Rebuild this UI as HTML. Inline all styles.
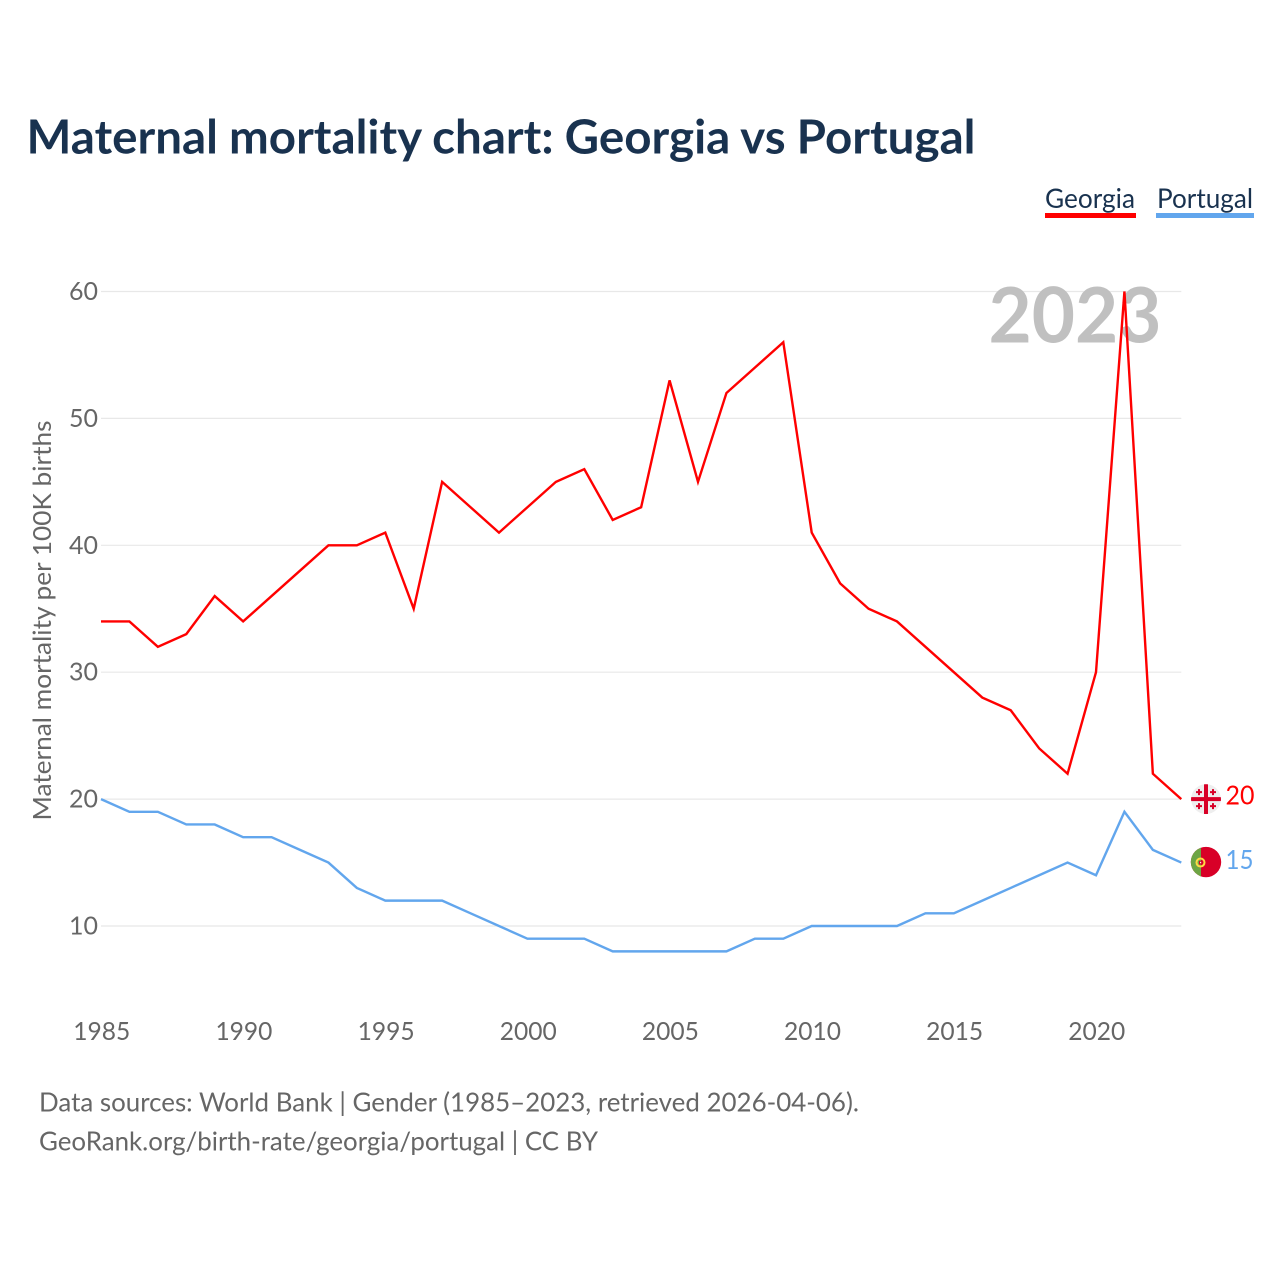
<!DOCTYPE html>
<html lang="en">
<head>
<meta charset="utf-8">
<title>Maternal mortality chart: Georgia vs Portugal</title>
<style>
html,body{margin:0;padding:0;background:#fff;width:1280px;height:1280px;overflow:hidden}
svg{display:block}
text{font-family:"Lato","Carlito","Liberation Sans",sans-serif}
</style>
</head>
<body>
<svg id="chart" xmlns="http://www.w3.org/2000/svg" width="1280" height="1280" viewBox="0 0 1280 1280">
  <text x="26.5" y="153.5" font-size="46.5" font-weight="700" fill="#19324f" word-spacing="-0.5" textLength="949" lengthAdjust="spacingAndGlyphs">Maternal mortality chart: Georgia vs Portugal</text>

  <text x="1045" y="208" font-size="27" fill="#19324f" textLength="90" lengthAdjust="spacingAndGlyphs">Georgia</text>
  <rect x="1045" y="213" width="91" height="5" fill="#ff0000"/>
  <text x="1157" y="208" font-size="27" fill="#19324f" textLength="96" lengthAdjust="spacingAndGlyphs">Portugal</text>
  <rect x="1156" y="213" width="98" height="5" fill="#62a6ed"/>

  <g id="grid"></g>
  <text x="988.5" y="342.5" font-size="77" font-weight="700" fill="#c0c0c0" textLength="173" lengthAdjust="spacingAndGlyphs">2023</text>
  <g id="yticks"></g>
  <g id="xticks"></g>
  <text transform="translate(51,820.5) rotate(-90)" x="0" y="0" font-size="25" fill="#666666" textLength="400" lengthAdjust="spacingAndGlyphs">Maternal mortality per 100K births</text>

  <polyline id="line-portugal" fill="none" stroke="#62a6ed" stroke-width="2.4" stroke-linejoin="miter"/>
  <polyline id="line-georgia" fill="none" stroke="#ff0000" stroke-width="2.4" stroke-linejoin="miter"/>

  <defs>
    <clipPath id="clip-ge"><circle cx="0" cy="0" r="15"/></clipPath>
    <clipPath id="clip-pt"><circle cx="0" cy="0" r="15.2"/></clipPath>
  </defs>
  <g id="flag-georgia">
    <g clip-path="url(#clip-ge)">
      <circle r="15" fill="#eeeeee"/>
      <rect x="-2" y="-15" width="4" height="30" fill="#d80027"/>
      <rect x="-15" y="-2" width="30" height="4" fill="#d80027"/>
      <path d="M-8 -10h2v2h2v2h-2v2h-2v-2h-2v-2h2z M6 -10h2v2h2v2h-2v2h-2v-2h-2v-2h2z M-8 4h2v2h2v2h-2v2h-2v-2h-2v-2h2z M6 4h2v2h2v2h-2v2h-2v-2h-2v-2h2z" fill="#d80027"/>
    </g>
  </g>
  <g id="flag-portugal">
    <g clip-path="url(#clip-pt)">
      <rect x="-16" y="-16" width="32" height="32" fill="#d80027"/>
      <rect x="-16" y="-16" width="11" height="32" fill="#6da544"/>
      <circle cx="-5.5" cy="0.5" r="4" fill="none" stroke="#ffda44" stroke-width="2"/>
      <rect x="-7" y="-1" width="3" height="3.4" fill="#d80027"/>
      <rect x="-6" y="-0.2" width="1.2" height="1.4" fill="#eeeeee"/>
    </g>
  </g>
  <text id="value-georgia" x="1225.5" font-size="26" fill="#ff0000" textLength="29" lengthAdjust="spacingAndGlyphs"></text>
  <text id="value-portugal" x="1225.5" font-size="26" fill="#62a6ed" textLength="28" lengthAdjust="spacingAndGlyphs"></text>

  <text x="39" y="1111.5" font-size="26.3" fill="#666666" textLength="820" lengthAdjust="spacingAndGlyphs">Data sources: World Bank | Gender (1985–2023, retrieved 2026-04-06).</text>
  <text x="39" y="1150.5" font-size="26.3" fill="#666666" textLength="559" lengthAdjust="spacingAndGlyphs">GeoRank.org/birth-rate/georgia/portugal | CC BY</text>
</svg>
<script>
const years = [1985,1986,1987,1988,1989,1990,1991,1992,1993,1994,1995,1996,1997,1998,1999,2000,2001,2002,2003,2004,2005,2006,2007,2008,2009,2010,2011,2012,2013,2014,2015,2016,2017,2018,2019,2020,2021,2022,2023];
const georgiaValues = [34,34,32,33,36,34,36,38,40,40,41,35,45,43,41,43,45,46,42,43,53,45,52,54,56,41,37,35,34,32,30,28,27,24,22,30,60,22,20];
const portugalValues = [20,19,19,18,18,17,17,16,15,13,12,12,12,11,10,9,9,9,8,8,8,8,8,9,9,10,10,10,10,11,11,12,13,14,15,14,19,16,15];
const yTickValues = [10,20,30,40,50,60];
const xTickValues = [1985,1990,1995,2000,2005,2010,2015,2020];

const NS = 'http://www.w3.org/2000/svg';
function xScale(year){ return 101 + (year - 1985) * (1096 - 101) / 35; }
function yScale(value){ return 926 - (value - 10) * (926 - 291.5) / 50; }

const gridGroup = document.getElementById('grid');
const yGroup = document.getElementById('yticks');
const xGroup = document.getElementById('xticks');

yTickValues.forEach(function(v){
  const line = document.createElementNS(NS,'line');
  
  
  line.setAttribute('x1', xScale(1985));
  line.setAttribute('x2', xScale(2023));
  line.setAttribute('y1', yScale(v));
  line.setAttribute('y2', yScale(v));
  line.setAttribute('stroke', '#e8e8e8');
  line.setAttribute('stroke-width', '1.2');
  gridGroup.appendChild(line);

  const label = document.createElementNS(NS,'text');
  
  
  label.setAttribute('x', 98);
  label.setAttribute('y', yScale(v) + 8.5);
  label.setAttribute('text-anchor', 'end');
  label.setAttribute('font-size', '25');
  label.setAttribute('fill', '#666666');
  label.setAttribute('textLength', '29');
  label.setAttribute('lengthAdjust', 'spacingAndGlyphs');
  label.textContent = v;
  yGroup.appendChild(label);
});

xTickValues.forEach(function(yr){
  const label = document.createElementNS(NS,'text');
  
  
  label.setAttribute('x', xScale(yr) + 0.8);
  label.setAttribute('y', 1040);
  label.setAttribute('text-anchor', 'middle');
  label.setAttribute('font-size', '25');
  label.setAttribute('fill', '#666666');
  label.setAttribute('textLength', '57');
  label.setAttribute('lengthAdjust', 'spacingAndGlyphs');
  label.textContent = yr;
  xGroup.appendChild(label);
});

function pointsFor(values){
  return values.map(function(v,i){ return xScale(years[i]).toFixed(2) + ',' + yScale(v).toFixed(2); }).join(' ');
}
document.getElementById('line-georgia').setAttribute('points', pointsFor(georgiaValues));
document.getElementById('line-portugal').setAttribute('points', pointsFor(portugalValues));

const lastGeorgia = georgiaValues[georgiaValues.length - 1];
const lastPortugal = portugalValues[portugalValues.length - 1];
document.getElementById('flag-georgia').setAttribute('transform', 'translate(1206,' + yScale(lastGeorgia) + ')');
document.getElementById('flag-portugal').setAttribute('transform', 'translate(1206,' + (yScale(lastPortugal) - 0.5) + ')');
const valueGeorgia = document.getElementById('value-georgia');
valueGeorgia.setAttribute('y', yScale(lastGeorgia) + 5.5);
valueGeorgia.textContent = lastGeorgia;
const valuePortugal = document.getElementById('value-portugal');
valuePortugal.setAttribute('y', yScale(lastPortugal) + 6.5);
valuePortugal.textContent = lastPortugal;
</script>
</body>
</html>
